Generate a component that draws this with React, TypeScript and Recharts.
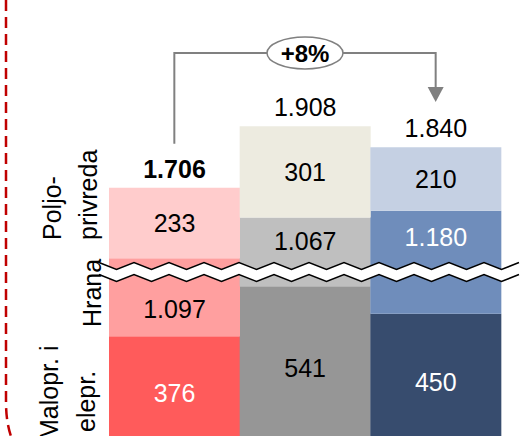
import React from 'react';
import { BarChart, Bar, XAxis, YAxis, Cell, LabelList } from 'recharts';

// ---- data ----
const categories = ['Stupac 1', 'Stupac 2', 'Stupac 3'];
const maloprodaja = [376, 541, 450];
const hrana = [1097, 1067, 1180];
const poljoprivreda = [233, 301, 210];
const totals = [1706, 1908, 1840];
const growthLabel = '+8%';
const AXIS_BREAK = 840; // units removed by the axis break
const Y_MAX = 1400;

const rowLabels = {
  polj: ['Poljo-', 'privreda'],
  hrana: ['Hrana'],
  malo: ['Malopr. i', 'elepr.'],
};

// ---- styles ----
const maloColors = ['#FF5B5B', '#969696', '#374C6E'];
const hranaColors = ['#FF9F9F', '#BFBFBF', '#6F8DBB'];
const poljColors = ['#FFCCCC', '#EDEBE0', '#C5D0E3'];
const maloText = ['#FFFFFF', '#000000', '#FFFFFF'];
const hranaText = ['#000000', '#000000', '#FFFFFF'];
const poljText = ['#000000', '#000000', '#000000'];
const FONT = '"Liberation Sans", Arial, sans-serif';
const FS = 25;

const W = 528;
const H = 470;
const M = { top: 26, right: 27, left: 109, bottom: 20 };
const plotW = W - M.left - M.right;
const plotH = H - M.top - M.bottom;
const plotBottom = H - M.bottom;
const yPix = (v: number) => plotBottom - (v / Y_MAX) * plotH;
const xCenter = (i: number) => M.left + (plotW / categories.length) * (i + 0.5);
const BREAK_Y = 272;

const fmt = (n: number) => {
  if (n >= 1000) {
    const r = n % 1000;
    return Math.floor(n / 1000) + '.' + String(r).padStart(3, '0');
  }
  return String(n);
};

const data = categories.map((c, i) => ({
  name: c,
  malo: maloprodaja[i],
  hranaPlot: hrana[i] - AXIS_BREAK,
  hrana: hrana[i],
  polj: poljoprivreda[i],
  total: totals[i],
}));

const centerLabel = (colors: string[]) => (props: any) => {
  const { x, y, width, height, index, value } = props;
  return (
    <text
      x={x + width / 2}
      y={y + height / 2}
      textAnchor="middle"
      dominantBaseline="central"
      fill={colors[index]}
      fontFamily={FONT}
      fontSize={FS}
    >
      {fmt(value)}
    </text>
  );
};

const midLabel = (props: any) => {
  const { x, y, width, height, index } = props;
  const bTop = BREAK_Y - 8;
  const bBot = BREAK_Y + 9;
  const above = bTop - y;
  const below = y + height - bBot;
  const cy = above >= below ? (y + bTop) / 2 : (bBot + y + height) / 2;
  return (
    <text
      x={x + width / 2}
      y={cy}
      textAnchor="middle"
      dominantBaseline="central"
      fill={hranaText[index]}
      fontFamily={FONT}
      fontSize={FS}
    >
      {fmt(hrana[index])}
    </text>
  );
};

const topLabel = (props: any) => {
  const { x, y, width, height, index } = props;
  return (
    <g>
      <text
        x={x + width / 2}
        y={y + height / 2}
        textAnchor="middle"
        dominantBaseline="central"
        fill={poljText[index]}
        fontFamily={FONT}
        fontSize={FS}
      >
        {fmt(poljoprivreda[index])}
      </text>
      <text
        x={x + width / 2}
        y={y - 19}
        textAnchor="middle"
        dominantBaseline="central"
        fill="#000"
        fontFamily={FONT}
        fontSize={FS}
        fontWeight={index === 0 ? 'bold' : 'normal'}
      >
        {fmt(totals[index])}
      </text>
    </g>
  );
};

const zigzag = (y0: number, x0: number, x1: number, amp: number, period: number) => {
  const pts: string[] = [];
  let up = true;
  for (let x = x0; x <= x1 + period / 2; x += period / 2) {
    pts.push(`${x},${up ? y0 - amp / 2 : y0 + amp / 2}`);
    up = !up;
  }
  return pts;
};

const Decorations = () => {
  const x0 = 99;
  const x1 = 514;
  const topPts = zigzag(BREAK_Y - 6, x0, x1, 7, 35);
  const botPts = zigzag(BREAK_Y + 6, x0, x1, 7, 35);
  const fillPath = 'M' + topPts.join(' L') + ' L' + botPts.slice().reverse().join(' L') + ' Z';

  const c0 = xCenter(0);
  const c1 = xCenter(1);
  const c2 = xCenter(2);
  const startY = yPix(totals[0] - AXIS_BREAK) - 44;
  const lineY = 53;
  const tipY = 102;

  const rot = (x: number, y: number, s: string, key: string) => (
    <text
      key={key}
      x={x}
      y={y}
      transform={`rotate(-90, ${x}, ${y})`}
      textAnchor="start"
      fill="#000"
      fontFamily={FONT}
      fontSize={FS}
    >
      {s}
    </text>
  );

  return (
    <svg
      width={W}
      height={436}
      style={{ position: 'absolute', left: 0, top: 0, pointerEvents: 'none' }}
    >
      {/* axis break */}
      <path d={fillPath} fill="#FFFFFF" stroke="none" />
      <polyline points={topPts.join(' ')} fill="none" stroke="#000" strokeWidth={1.5} />
      <polyline points={botPts.join(' ')} fill="none" stroke="#000" strokeWidth={1.5} />

      {/* growth arrow */}
      <polyline
        points={`${c0},${startY} ${c0},${lineY} ${c2},${lineY} ${c2},${tipY - 15}`}
        fill="none"
        stroke="#808080"
        strokeWidth={2}
      />
      <polygon points={`${c2 - 8},${tipY - 15} ${c2 + 8},${tipY - 15} ${c2},${tipY}`} fill="#808080" />
      <ellipse cx={c1} cy={lineY} rx={38} ry={16} fill="#FFFFFF" stroke="#808080" strokeWidth={1.5} />
      <text
        x={c1}
        y={lineY}
        textAnchor="middle"
        dominantBaseline="central"
        fontFamily={FONT}
        fontSize={24}
        fontWeight="bold"
        fill="#000"
      >
        {growthLabel}
      </text>

      {/* row labels */}
      {rot(61, 240, rowLabels.polj[0], 'p0')}
      {rot(97, 240, rowLabels.polj[1], 'p1')}
      {rot(101, 327, rowLabels.hrana[0], 'h0')}
      {rot(58, 440, rowLabels.malo[0], 'm0')}
      {rot(95, 432, rowLabels.malo[1], 'm1')}

      {/* dashed frame */}
      <path
        d="M6,0 L6,402 Q6,428 15,446"
        fill="none"
        stroke="#C00000"
        strokeWidth={2.5}
        strokeDasharray="11 6"
      />
    </svg>
  );
};

export default function App() {
  return (
    <div style={{ position: 'absolute', left: 0, top: 0, width: W, height: 436, overflow: 'hidden', background: '#fff' }}>
      <BarChart width={W} height={H} data={data} margin={M} barCategoryGap={0} barGap={0}>
        <XAxis dataKey="name" hide />
        <YAxis hide domain={[0, Y_MAX]} />
        <Bar dataKey="malo" stackId="s" isAnimationActive={false}>
          {data.map((_, i) => (
            <Cell key={i} fill={maloColors[i]} />
          ))}
          <LabelList dataKey="malo" content={centerLabel(maloText)} />
        </Bar>
        <Bar dataKey="hranaPlot" stackId="s" isAnimationActive={false}>
          {data.map((_, i) => (
            <Cell key={i} fill={hranaColors[i]} />
          ))}
          <LabelList dataKey="hranaPlot" content={midLabel} />
        </Bar>
        <Bar dataKey="polj" stackId="s" isAnimationActive={false}>
          {data.map((_, i) => (
            <Cell key={i} fill={poljColors[i]} />
          ))}
          <LabelList dataKey="polj" content={topLabel} />
        </Bar>
      </BarChart>
      <Decorations />
    </div>
  );
}
